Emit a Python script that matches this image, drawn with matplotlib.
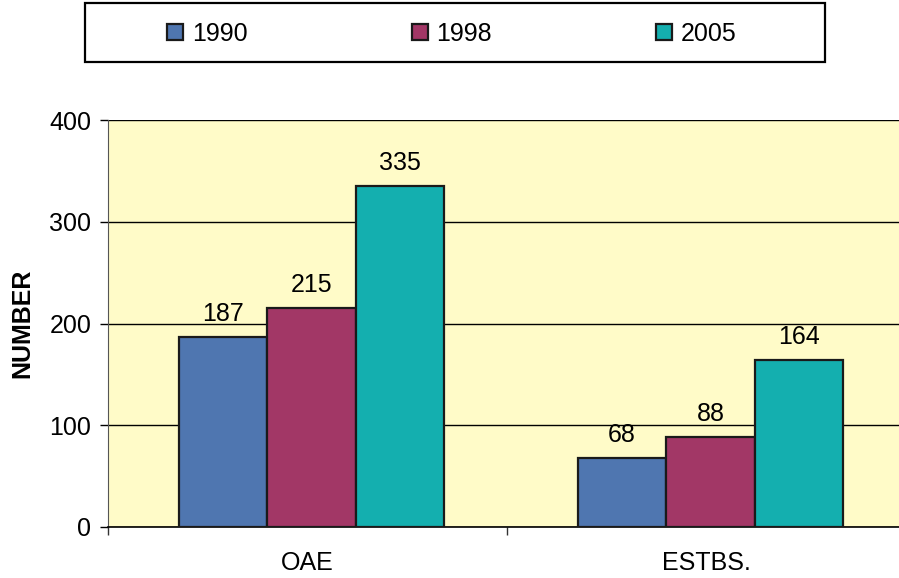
import numpy as np
import matplotlib.pyplot as plt
from matplotlib.patches import Rectangle

plt.rcParams['font.family'] = ['Liberation Sans', 'DejaVu Sans']

categories = ['OAE', 'ESTBS.']
years = ['1990', '1998', '2005']
values_1990 = [187, 68]
values_1998 = [215, 88]
values_2005 = [335, 164]
colors = ['#4f76b0', '#a23766', '#14afaf']

fs = 18

fig = plt.figure(figsize=(8.99, 5.78), dpi=100)
# plot area in pixels: left 108, bottom 527, top 120, right runs past the edge
W, H = 899, 578
ax = fig.add_axes([108 / W, 1 - 527 / H, 798 / W, 407 / H])
ax.set_facecolor('#fffbc8')

x = np.arange(len(categories))
width = 0.222
series = [values_1990, values_1998, values_2005]
for i, vals in enumerate(series):
    pos = x + 0.01 + (i - 1) * width
    bars = ax.bar(pos, vals, width, color=colors[i], edgecolor='#1a1a1a',
                  linewidth=1.6, label=years[i], zorder=3)
    for b, v in zip(bars, vals):
        ax.annotate(str(v), (b.get_x() + b.get_width() / 2, v),
                    xytext=(0, 8), textcoords='offset points',
                    ha='center', va='bottom', fontsize=fs)

ax.set_xlim(-0.5, 1.5)
ax.set_ylim(0, 400)
ax.set_yticks([0, 100, 200, 300, 400])
ax.yaxis.grid(True, color='black', linewidth=1.0, zorder=1)
ax.set_axisbelow(True)
ax.tick_params(axis='y', labelsize=fs, length=6, width=1, pad=6)

ax.set_xticks(x)
ax.set_xticklabels(categories, fontsize=fs)
ax.set_xticks([-0.5, 0.5, 1.5], minor=True)
ax.tick_params(axis='x', which='major', length=0, pad=17)
ax.tick_params(axis='x', which='minor', length=6, width=1, color='#333333')

for s in ['top', 'right']:
    ax.spines[s].set_visible(False)
ax.spines['left'].set_color('#555555')
ax.spines['bottom'].set_color('black')
ax.spines['bottom'].set_linewidth(1.2)

fig.text(22 / W, 1 - 323 / H, 'NUMBER', rotation=90, fontsize=fs,
         fontweight='bold', ha='center', va='center')

# legend box drawn separately, wider than its entries
fig.patches.append(Rectangle((85 / W, 1 - 62 / H), 740 / W, 59 / H,
                             transform=fig.transFigure, fill=False,
                             edgecolor='black', linewidth=1.6))
handles, labels = ax.get_legend_handles_labels()
fig.legend(handles, labels, loc='center', bbox_to_anchor=(452 / W, 1 - 34 / H),
           ncol=3, frameon=False, fontsize=fs, handlelength=0.64,
           handleheight=0.64, handletextpad=0.36, columnspacing=6.55)

fig.savefig('out.png', dpi=100)
